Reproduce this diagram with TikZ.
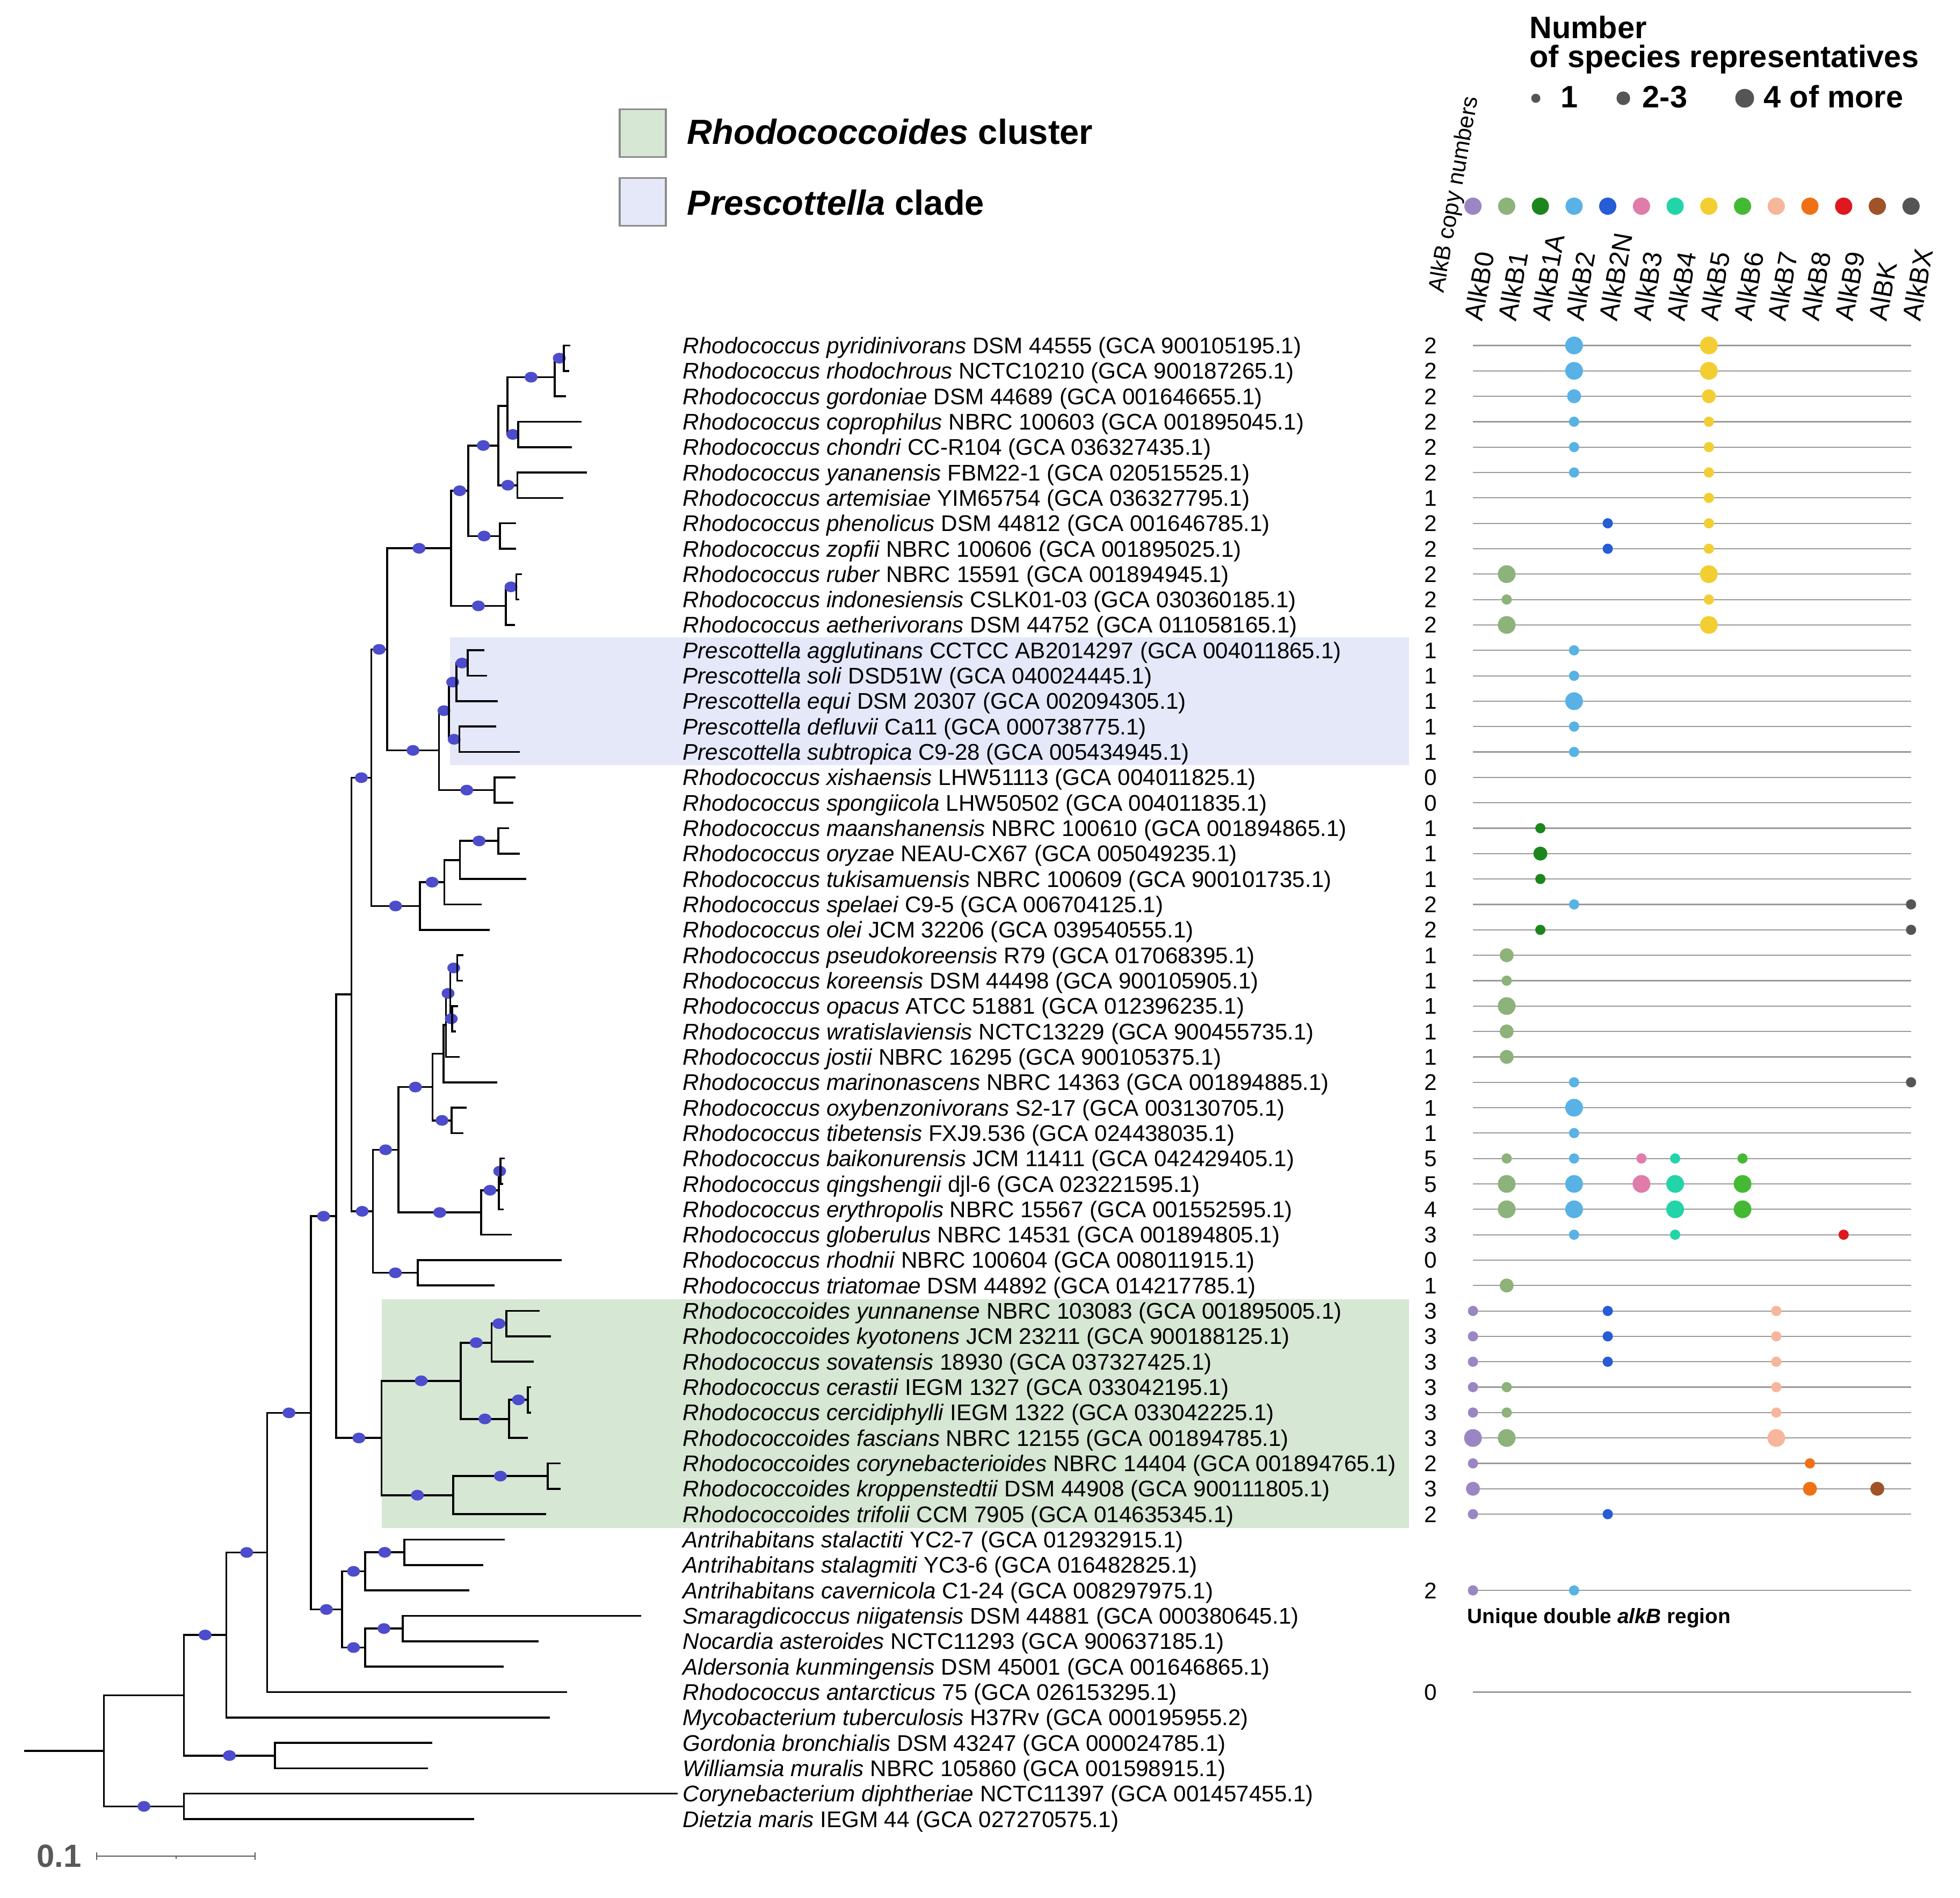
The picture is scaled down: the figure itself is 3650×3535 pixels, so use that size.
\documentclass[tikz,border=0pt]{standalone}
\usepackage{fontspec}
\setmainfont{Liberation Sans}
\usetikzlibrary{positioning, shapes.geometric}

\definecolor{bootblue}{RGB}{76,76,204}
\definecolor{rhodo}{RGB}{214,231,212}
\definecolor{presc}{RGB}{229,232,248}
\definecolor{cB0}{RGB}{155,134,196}
\definecolor{cB1}{RGB}{141,178,122}
\definecolor{cB1A}{RGB}{28,134,28}
\definecolor{cB2}{RGB}{88,178,230}
\definecolor{cB2N}{RGB}{38,92,214}
\definecolor{cB3}{RGB}{224,124,170}
\definecolor{cB4}{RGB}{34,212,168}
\definecolor{cB5}{RGB}{242,206,50}
\definecolor{cB6}{RGB}{68,186,52}
\definecolor{cB7}{RGB}{246,182,156}
\definecolor{cB8}{RGB}{240,112,22}
\definecolor{cB9}{RGB}{222,24,30}
\definecolor{cBK}{RGB}{160,82,40}
\definecolor{cBX}{RGB}{85,85,85}

\begin{document}
\begin{tikzpicture} [x = 0.01cm, y = -0.01cm,
    branch/.style = {line width = 0.36mm},
    boot/.style = {ellipse, fill = bootblue, inner sep = 0pt, minimum width = 2.4mm, minimum height = 2mm},
    taxon/.style = {anchor = base west, inner sep = 0pt, yshift = -1.5mm, font = \fontsize{12}{14}\selectfont},
    copyno/.style = {anchor = base, inner sep = 0pt, yshift = -1.5mm, font = \fontsize{12}{14}\selectfont},
    rowline/.style = {line width = 0.22mm, draw = black!40},
    dotone/.style = {radius = 0.95mm},
    dotfew/.style = {radius = 1.3mm},
    dotmany/.style = {radius = 1.65mm},
    alkhead/.style = {anchor = west, rotate = 80, inner sep = 0pt, font = \fontsize{14}{16}\selectfont},
    legbox/.style = {draw = black!45, line width = 0.35mm, minimum width = 0.86cm, minimum height = 0.89cm, inner sep = 0pt},
    legtext/.style = {anchor = base west, inner sep = 0pt, font = \bfseries\fontsize{18.5}{20}\selectfont},
    legbig/.style = {anchor = base west, inner sep = 0pt, font = \bfseries\fontsize{16.4}{18}\selectfont}]

\useasboundingbox (0,0) rectangle (3650,3535);

% highlighted groups
\fill [presc] (838,1187) rectangle (2624,1425);
\fill [rhodo] (711,2420) rectangle (2624,2846);

% legend, groups
\node (boxR) [legbox, fill = rhodo] at (1197,248) {};
\node (legR) [legtext] at (1279,268) {\textit{Rhodococcoides} cluster};
\node (boxP) [legbox, fill = presc] at (1197,376) {};
\node (legP) [legtext] at (1279,400) {\textit{Prescottella} clade};

% legend, dot sizes
\node (legN1) [legbig] at (2848,71) {Number};
\node (legN2) [legbig] at (2848,125) {of species representatives};
\fill [cBX] (2860,183) circle [radius = 0.85mm];
\node (leg1) [legbig] at (2906,200) {1};
\fill [cBX] (3023,183) circle [radius = 1.27mm];
\node (leg2) [legbig] at (3058,200) {2-3};
\fill [cBX] (3249,183) circle [radius = 1.75mm];
\node (leg3) [legbig] at (3284,200) {4 of more};

% columns
\coordinate (xB0) at (2743.0,597);
\coordinate (xB1) at (2805.8,597);
\coordinate (xB1A) at (2868.5,597);
\coordinate (xB2) at (2931.3,597);
\coordinate (xB2N) at (2994.0,597);
\coordinate (xB3) at (3056.8,597);
\coordinate (xB4) at (3119.5,597);
\coordinate (xB5) at (3182.3,597);
\coordinate (xB6) at (3245.0,597);
\coordinate (xB7) at (3307.8,597);
\coordinate (xB8) at (3370.5,597);
\coordinate (xB9) at (3433.3,597);
\coordinate (xBK) at (3496.0,597);
\coordinate (xBX) at (3558.8,597);
\coordinate (hdot) at (0,384);

\node (cnhead) [anchor = west, rotate = 80, inner sep = 0pt, font = \fontsize{12.2}{14}\selectfont] at (2677,545) {AlkB copy numbers};

\node (hB0) [alkhead] at (xB0) {AlkB0};
\node (hB1) [alkhead] at (xB1) {AlkB1};
\node (hB1A) [alkhead] at (xB1A) {AlkB1A};
\node (hB2) [alkhead] at (xB2) {AlkB2};
\node (hB2N) [alkhead] at (xB2N) {AlkB2N};
\node (hB3) [alkhead] at (xB3) {AlkB3};
\node (hB4) [alkhead] at (xB4) {AlkB4};
\node (hB5) [alkhead] at (xB5) {AlkB5};
\node (hB6) [alkhead] at (xB6) {AlkB6};
\node (hB7) [alkhead] at (xB7) {AlkB7};
\node (hB8) [alkhead] at (xB8) {AlkB8};
\node (hB9) [alkhead] at (xB9) {AlkB9};
\node (hBK) [alkhead] at (xBK) {AlBK};
\node (hBX) [alkhead] at (xBX) {AlkBX};

\fill [cB0] (xB0 |- hdot) circle [radius = 1.6mm];
\fill [cB1] (xB1 |- hdot) circle [radius = 1.6mm];
\fill [cB1A] (xB1A |- hdot) circle [radius = 1.6mm];
\fill [cB2] (xB2 |- hdot) circle [radius = 1.6mm];
\fill [cB2N] (xB2N |- hdot) circle [radius = 1.6mm];
\fill [cB3] (xB3 |- hdot) circle [radius = 1.6mm];
\fill [cB4] (xB4 |- hdot) circle [radius = 1.6mm];
\fill [cB5] (xB5 |- hdot) circle [radius = 1.6mm];
\fill [cB6] (xB6 |- hdot) circle [radius = 1.6mm];
\fill [cB7] (xB7 |- hdot) circle [radius = 1.6mm];
\fill [cB8] (xB8 |- hdot) circle [radius = 1.6mm];
\fill [cB9] (xB9 |- hdot) circle [radius = 1.6mm];
\fill [cBK] (xBK |- hdot) circle [radius = 1.6mm];
\fill [cBX] (xBX |- hdot) circle [radius = 1.6mm];

% leaves
\coordinate (l1) at (1062,643.4);
\coordinate (l2) at (1060,690.7);
\coordinate (l3) at (1054,738.0);
\coordinate (l4) at (1083,785.4);
\coordinate (l5) at (1065,832.7);
\coordinate (l6) at (1093,880.0);
\coordinate (l7) at (1049,927.3);
\coordinate (l8) at (960.6,974.6);
\coordinate (l9) at (960.6,1022.0);
\coordinate (l10) at (972,1069.3);
\coordinate (l11) at (966.5,1116.6);
\coordinate (l12) at (959,1163.9);
\coordinate (l13) at (901.7,1211.2);
\coordinate (l14) at (906.7,1258.6);
\coordinate (l15) at (926.5,1305.9);
\coordinate (l16) at (924.4,1353.2);
\coordinate (l17) at (967.8,1400.5);
\coordinate (l18) at (960,1447.8);
\coordinate (l19) at (956.4,1495.2);
\coordinate (l20) at (948,1542.5);
\coordinate (l21) at (968,1589.8);
\coordinate (l22) at (980,1637.1);
\coordinate (l23) at (897.4,1684.4);
\coordinate (l24) at (911.6,1731.8);
\coordinate (l25) at (863.4,1779.1);
\coordinate (l26) at (862,1826.4);
\coordinate (l27) at (852.6,1873.7);
\coordinate (l28) at (848.8,1921.0);
\coordinate (l29) at (856,1968.4);
\coordinate (l30) at (925.7,2015.7);
\coordinate (l31) at (869,2063.0);
\coordinate (l32) at (863,2110.3);
\coordinate (l33) at (940,2157.6);
\coordinate (l34) at (937,2205.0);
\coordinate (l35) at (937.5,2252.3);
\coordinate (l36) at (952.6,2299.6);
\coordinate (l37) at (1046,2346.9);
\coordinate (l38) at (921,2394.2);
\coordinate (l39) at (1004.5,2441.6);
\coordinate (l40) at (1025.8,2488.9);
\coordinate (l41) at (993.6,2536.2);
\coordinate (l42) at (989,2583.5);
\coordinate (l43) at (989,2630.8);
\coordinate (l44) at (983.3,2678.2);
\coordinate (l45) at (1044,2725.5);
\coordinate (l46) at (1044,2772.8);
\coordinate (l47) at (1016.7,2820.1);
\coordinate (l48) at (939.7,2867.4);
\coordinate (l49) at (899.7,2914.8);
\coordinate (l50) at (874,2962.1);
\coordinate (l51) at (1193.6,3009.4);
\coordinate (l52) at (1002.7,3056.7);
\coordinate (l53) at (938,3104.0);
\coordinate (l54) at (1056,3151.4);
\coordinate (l55) at (1024,3198.7);
\coordinate (l56) at (804.5,3246.0);
\coordinate (l57) at (796.7,3293.3);
\coordinate (l58) at (1262,3340.6);
\coordinate (l59) at (883,3388.0);

% internal nodes
\coordinate (a12) at (1050,667.1);
\coordinate (a123) at (1033,702.5);
\coordinate (a45) at (965,809.1);
\coordinate (a15) at (945,755.8);
\coordinate (a67) at (963.5,903.7);
\coordinate (a17) at (928,829.7);
\coordinate (a89) at (931,998.3);
\coordinate (a19) at (872,914.0);
\coordinate (a1011) at (961.5,1093.0);
\coordinate (a1012) at (941.7,1128.4);
\coordinate (a112) at (840,1021.2);
\coordinate (b1314) at (871,1234.9);
\coordinate (b1315) at (850,1270.4);
\coordinate (b1617) at (855.4,1376.9);
\coordinate (b1317) at (836,1323.6);
\coordinate (b1819) at (921,1471.5);
\coordinate (b1319) at (817.5,1397.6);
\coordinate (p1) at (720.7,1209.4);
\coordinate (c2021) at (928,1566.2);
\coordinate (c2022) at (856.4,1601.7);
\coordinate (c2023) at (827.6,1643.0);
\coordinate (c2024) at (781.8,1687.4);
\coordinate (p2) at (691.4,1448.4);
\coordinate (d2526) at (851.6,1802.8);
\coordinate (d2728) at (842.2,1897.4);
\coordinate (d2528) at (838.4,1850.1);
\coordinate (d2529) at (830.4,1909.2);
\coordinate (d2530) at (825.7,1962.5);
\coordinate (d3132) at (840.8,2086.7);
\coordinate (d2532) at (805.4,2024.6);
\coordinate (d3334) at (932,2181.3);
\coordinate (d3335) at (929,2216.8);
\coordinate (d3336) at (896,2258.2);
\coordinate (d2536) at (741.7,2141.4);
\coordinate (d3738) at (778,2370.6);
\coordinate (d2538) at (694.5,2256.0);
\coordinate (p3) at (654.4,1852.2);
\coordinate (e3940) at (942.7,2465.2);
\coordinate (e3941) at (915.5,2500.7);
\coordinate (e4243) at (983,2607.2);
\coordinate (e4244) at (948,2642.7);
\coordinate (e3944) at (858,2571.7);
\coordinate (e4546) at (1019.7,2749.2);
\coordinate (e4547) at (844,2784.7);
\coordinate (e3947) at (710.6,2678.2);
\coordinate (p4) at (626,2265.2);
\coordinate (f4849) at (753,2891.1);
\coordinate (f4850) at (680,2926.6);
\coordinate (f5152) at (750,3033.1);
\coordinate (f5153) at (680,3068.5);
\coordinate (f4853) at (636.7,2997.6);
\coordinate (p5) at (579,2631.4);
\coordinate (p6) at (497.3,2891.4);
\coordinate (p7) at (421.5,3045.1);
\coordinate (g5657) at (511.8,3269.7);
\coordinate (p8) at (342.6,3157.4);
\coordinate (h5859) at (342.6,3364.3);
\coordinate (root) at (193.5,3260.9);
\coordinate (rootstem) at (44.5,3260.9);

% tree
\draw [branch] (rootstem) -- (root);
\draw [branch] (root) |- (p8);
\draw [branch] (root) |- node [boot, pos = .75] (s-h5859) {} (h5859);
\draw [branch] (h5859) |- (l58);
\draw [branch] (h5859) |- (l59);
\draw [branch] (p8) |- node [boot, pos = .75] (s-p7) {} (p7);
\draw [branch] (p8) |- node [boot, pos = .75] (s-g5657) {} (g5657);
\draw [branch] (g5657) |- (l56);
\draw [branch] (g5657) |- (l57);
\draw [branch] (p7) |- node [boot, pos = .75] (s-p6) {} (p6);
\draw [branch] (p7) |- (l55);
\draw [branch] (p6) |- node [boot, pos = .75] (s-p5) {} (p5);
\draw [branch] (p6) |- (l54);

% Antrihabitans and relatives
\draw [branch] (p5) |- node [boot, pos = .75] (s-f4853) {} (f4853);
\draw [branch] (f4853) |- node [boot, pos = .75] (s-f4850) {} (f4850);
\draw [branch] (f4853) |- node [boot, pos = .75] (s-f5153) {} (f5153);
\draw [branch] (f4850) |- node [boot, pos = .75] (s-f4849) {} (f4849);
\draw [branch] (f4850) |- (l50);
\draw [branch] (f4849) |- (l48);
\draw [branch] (f4849) |- (l49);
\draw [branch] (f5153) |- node [boot, pos = .75] (s-f5152) {} (f5152);
\draw [branch] (f5153) |- (l53);
\draw [branch] (f5152) |- (l51);
\draw [branch] (f5152) |- (l52);

% Rhodococcoides cluster
\draw [branch] (p5) |- node [boot, pos = .75] (s-p4) {} (p4);
\draw [branch] (p4) |- node [boot, pos = .75] (s-e3947) {} (e3947);
\draw [branch] (e3947) |- node [boot, pos = .75] (s-e3944) {} (e3944);
\draw [branch] (e3947) |- node [boot, pos = .75] (s-e4547) {} (e4547);
\draw [branch] (e3944) |- node [boot, pos = .75] (s-e3941) {} (e3941);
\draw [branch] (e3944) |- node [boot, pos = .75] (s-e4244) {} (e4244);
\draw [branch] (e3941) |- node [boot, pos = .75] (s-e3940) {} (e3940);
\draw [branch] (e3941) |- (l41);
\draw [branch] (e3940) |- (l39);
\draw [branch] (e3940) |- (l40);
\draw [branch] (e4244) |- node [boot, pos = .75] (s-e4243) {} (e4243);
\draw [branch] (e4244) |- (l44);
\draw [branch] (e4243) |- (l42);
\draw [branch] (e4243) |- (l43);
\draw [branch] (e4547) |- node [boot, pos = .75] (s-e4546) {} (e4546);
\draw [branch] (e4547) |- (l47);
\draw [branch] (e4546) |- (l45);
\draw [branch] (e4546) |- (l46);

% opacus / erythropolis groups
\draw [branch] (p4) |- (p3);
\draw [branch] (p3) |- node [boot, pos = .75] (s-d2538) {} (d2538);
\draw [branch] (d2538) |- node [boot, pos = .75] (s-d3738) {} (d3738);
\draw [branch] (d3738) |- (l37);
\draw [branch] (d3738) |- (l38);
\draw [branch] (d2538) |- node [boot, pos = .75] (s-d2536) {} (d2536);
\draw [branch] (d2536) |- node [boot, pos = .75] (s-d3336) {} (d3336);
\draw [branch] (d3336) |- node [boot, pos = .75] (s-d3335) {} (d3335);
\draw [branch] (d3336) |- (l36);
\draw [branch] (d3335) |- node [boot, pos = .75] (s-d3334) {} (d3334);
\draw [branch] (d3335) |- (l35);
\draw [branch] (d3334) |- (l33);
\draw [branch] (d3334) |- (l34);
\draw [branch] (d2536) |- node [boot, pos = .75] (s-d2532) {} (d2532);
\draw [branch] (d2532) |- node [boot, pos = .75] (s-d3132) {} (d3132);
\draw [branch] (d3132) |- (l31);
\draw [branch] (d3132) |- (l32);
\draw [branch] (d2532) |- (d2530);
\draw [branch] (d2530) |- (l30);
\draw [branch] (d2530) |- (d2529);
\draw [branch] (d2529) |- (l29);
\draw [branch] (d2529) |- node [boot, pos = .75] (s-d2528) {} (d2528);
\draw [branch] (d2528) |- node [boot, pos = .75] (s-d2526) {} (d2526);
\draw [branch] (d2528) |- node [boot, pos = .75] (s-d2728) {} (d2728);
\draw [branch] (d2526) |- (l25);
\draw [branch] (d2526) |- (l26);
\draw [branch] (d2728) |- (l27);
\draw [branch] (d2728) |- (l28);

% maanshanensis group
\draw [branch] (p3) |- node [boot, pos = .75] (s-p2) {} (p2);
\draw [branch] (p2) |- node [boot, pos = .75] (s-c2024) {} (c2024);
\draw [branch] (c2024) |- (l24);
\draw [branch] (c2024) |- node [boot, pos = .75] (s-c2023) {} (c2023);
\draw [branch] (c2023) |- (l23);
\draw [branch] (c2023) |- (c2022);
\draw [branch] (c2022) |- (l22);
\draw [branch] (c2022) |- node [boot, pos = .75] (s-c2021) {} (c2021);
\draw [branch] (c2021) |- (l20);
\draw [branch] (c2021) |- (l21);

% Prescottella clade
\draw [branch] (p2) |- node [boot, pos = .75] (s-p1) {} (p1);
\draw [branch] (p1) |- node [boot, pos = .75] (s-b1319) {} (b1319);
\draw [branch] (b1319) |- node [boot, pos = .75] (s-b1819) {} (b1819);
\draw [branch] (b1819) |- (l18);
\draw [branch] (b1819) |- (l19);
\draw [branch] (b1319) |- node [boot, pos = .75] (s-b1317) {} (b1317);
\draw [branch] (b1317) |- node [boot, pos = .75] (s-b1617) {} (b1617);
\draw [branch] (b1617) |- (l16);
\draw [branch] (b1617) |- (l17);
\draw [branch] (b1317) |- node [boot, pos = .75] (s-b1315) {} (b1315);
\draw [branch] (b1315) |- (l15);
\draw [branch] (b1315) |- node [boot, pos = .75] (s-b1314) {} (b1314);
\draw [branch] (b1314) |- (l13);
\draw [branch] (b1314) |- (l14);

% ruber / rhodochrous group
\draw [branch] (p1) |- node [boot, pos = .75] (s-a112) {} (a112);
\draw [branch] (a112) |- node [boot, pos = .75] (s-a1012) {} (a1012);
\draw [branch] (a1012) |- (l12);
\draw [branch] (a1012) |- node [boot, pos = .75] (s-a1011) {} (a1011);
\draw [branch] (a1011) |- (l10);
\draw [branch] (a1011) |- (l11);
\draw [branch] (a112) |- node [boot, pos = .75] (s-a19) {} (a19);
\draw [branch] (a19) |- node [boot, pos = .75] (s-a89) {} (a89);
\draw [branch] (a89) |- (l8);
\draw [branch] (a89) |- (l9);
\draw [branch] (a19) |- node [boot, pos = .75] (s-a17) {} (a17);
\draw [branch] (a17) |- node [boot, pos = .75] (s-a67) {} (a67);
\draw [branch] (a67) |- (l6);
\draw [branch] (a67) |- (l7);
\draw [branch] (a17) |- (a15);
\draw [branch] (a15) |- node [boot, pos = .75] (s-a45) {} (a45);
\draw [branch] (a45) |- (l4);
\draw [branch] (a45) |- (l5);
\draw [branch] (a15) |- node [boot, pos = .75] (s-a123) {} (a123);
\draw [branch] (a123) |- (l3);
\draw [branch] (a123) |- node [boot, pos = .75] (s-a12) {} (a12);
\draw [branch] (a12) |- (l1);
\draw [branch] (a12) |- (l2);

% scale bar
\coordinate (sbL) at (180,3457);
\coordinate (sbR) at (475,3457);
\node (sbtext) [anchor = west, inner sep = 0pt, text = black!65, font = \bfseries\fontsize{17}{18}\selectfont] at (68,3457) {0.1};
\draw [line width = 0.25mm, black!65] (sbL) -- (sbR);
\draw [line width = 0.25mm, black!65] ([yshift = 0.7mm] sbL) -- ([yshift = -0.7mm] sbL);
\draw [line width = 0.25mm, black!65] ([yshift = 0.7mm] sbR) -- ([yshift = -0.7mm] sbR);
\draw [line width = 0.2mm, black!65] (328,3457) -- (328,3462);

% taxa
\coordinate (lab) at (1271,0);
\node (t1) [taxon] at (lab |- l1) {\textit{Rhodococcus pyridinivorans} DSM 44555 (GCA 900105195.1)};
\node (t2) [taxon] at (lab |- l2) {\textit{Rhodococcus rhodochrous} NCTC10210 (GCA 900187265.1)};
\node (t3) [taxon] at (lab |- l3) {\textit{Rhodococcus gordoniae} DSM 44689 (GCA 001646655.1)};
\node (t4) [taxon] at (lab |- l4) {\textit{Rhodococcus coprophilus} NBRC 100603 (GCA 001895045.1)};
\node (t5) [taxon] at (lab |- l5) {\textit{Rhodococcus chondri} CC-R104 (GCA 036327435.1)};
\node (t6) [taxon] at (lab |- l6) {\textit{Rhodococcus yananensis} FBM22-1 (GCA 020515525.1)};
\node (t7) [taxon] at (lab |- l7) {\textit{Rhodococcus artemisiae} YIM65754 (GCA 036327795.1)};
\node (t8) [taxon] at (lab |- l8) {\textit{Rhodococcus phenolicus} DSM 44812 (GCA 001646785.1)};
\node (t9) [taxon] at (lab |- l9) {\textit{Rhodococcus zopfii} NBRC 100606 (GCA 001895025.1)};
\node (t10) [taxon] at (lab |- l10) {\textit{Rhodococcus ruber} NBRC 15591 (GCA 001894945.1)};
\node (t11) [taxon] at (lab |- l11) {\textit{Rhodococcus indonesiensis} CSLK01-03 (GCA 030360185.1)};
\node (t12) [taxon] at (lab |- l12) {\textit{Rhodococcus aetherivorans} DSM 44752 (GCA 011058165.1)};
\node (t13) [taxon] at (lab |- l13) {\textit{Prescottella agglutinans} CCTCC AB2014297 (GCA 004011865.1)};
\node (t14) [taxon] at (lab |- l14) {\textit{Prescottella soli} DSD51W (GCA 040024445.1)};
\node (t15) [taxon] at (lab |- l15) {\textit{Prescottella equi} DSM 20307 (GCA 002094305.1)};
\node (t16) [taxon] at (lab |- l16) {\textit{Prescottella defluvii} Ca11 (GCA 000738775.1)};
\node (t17) [taxon] at (lab |- l17) {\textit{Prescottella subtropica} C9-28 (GCA 005434945.1)};
\node (t18) [taxon] at (lab |- l18) {\textit{Rhodococcus xishaensis} LHW51113 (GCA 004011825.1)};
\node (t19) [taxon] at (lab |- l19) {\textit{Rhodococcus spongiicola} LHW50502 (GCA 004011835.1)};
\node (t20) [taxon] at (lab |- l20) {\textit{Rhodococcus maanshanensis} NBRC 100610 (GCA 001894865.1)};
\node (t21) [taxon] at (lab |- l21) {\textit{Rhodococcus oryzae} NEAU-CX67 (GCA 005049235.1)};
\node (t22) [taxon] at (lab |- l22) {\textit{Rhodococcus tukisamuensis} NBRC 100609 (GCA 900101735.1)};
\node (t23) [taxon] at (lab |- l23) {\textit{Rhodococcus spelaei} C9-5 (GCA 006704125.1)};
\node (t24) [taxon] at (lab |- l24) {\textit{Rhodococcus olei} JCM 32206 (GCA 039540555.1)};
\node (t25) [taxon] at (lab |- l25) {\textit{Rhodococcus pseudokoreensis} R79 (GCA 017068395.1)};
\node (t26) [taxon] at (lab |- l26) {\textit{Rhodococcus koreensis} DSM 44498 (GCA 900105905.1)};
\node (t27) [taxon] at (lab |- l27) {\textit{Rhodococcus opacus} ATCC 51881 (GCA 012396235.1)};
\node (t28) [taxon] at (lab |- l28) {\textit{Rhodococcus wratislaviensis} NCTC13229 (GCA 900455735.1)};
\node (t29) [taxon] at (lab |- l29) {\textit{Rhodococcus jostii} NBRC 16295 (GCA 900105375.1)};
\node (t30) [taxon] at (lab |- l30) {\textit{Rhodococcus marinonascens} NBRC 14363 (GCA 001894885.1)};
\node (t31) [taxon] at (lab |- l31) {\textit{Rhodococcus oxybenzonivorans} S2-17 (GCA 003130705.1)};
\node (t32) [taxon] at (lab |- l32) {\textit{Rhodococcus tibetensis} FXJ9.536 (GCA 024438035.1)};
\node (t33) [taxon] at (lab |- l33) {\textit{Rhodococcus baikonurensis} JCM 11411 (GCA 042429405.1)};
\node (t34) [taxon] at (lab |- l34) {\textit{Rhodococcus qingshengii} djl-6 (GCA 023221595.1)};
\node (t35) [taxon] at (lab |- l35) {\textit{Rhodococcus erythropolis} NBRC 15567 (GCA 001552595.1)};
\node (t36) [taxon] at (lab |- l36) {\textit{Rhodococcus globerulus} NBRC 14531 (GCA 001894805.1)};
\node (t37) [taxon] at (lab |- l37) {\textit{Rhodococcus rhodnii} NBRC 100604 (GCA 008011915.1)};
\node (t38) [taxon] at (lab |- l38) {\textit{Rhodococcus triatomae} DSM 44892 (GCA 014217785.1)};
\node (t39) [taxon] at (lab |- l39) {\textit{Rhodococcoides yunnanense} NBRC 103083 (GCA 001895005.1)};
\node (t40) [taxon] at (lab |- l40) {\textit{Rhodococcoides kyotonens} JCM 23211 (GCA 900188125.1)};
\node (t41) [taxon] at (lab |- l41) {\textit{Rhodococcus sovatensis} 18930 (GCA 037327425.1)};
\node (t42) [taxon] at (lab |- l42) {\textit{Rhodococcus cerastii} IEGM 1327 (GCA 033042195.1)};
\node (t43) [taxon] at (lab |- l43) {\textit{Rhodococcus cercidiphylli} IEGM 1322 (GCA 033042225.1)};
\node (t44) [taxon] at (lab |- l44) {\textit{Rhodococcoides fascians} NBRC 12155 (GCA 001894785.1)};
\node (t45) [taxon] at (lab |- l45) {\textit{Rhodococcoides corynebacterioides} NBRC 14404 (GCA 001894765.1)};
\node (t46) [taxon] at (lab |- l46) {\textit{Rhodococcoides kroppenstedtii} DSM 44908 (GCA 900111805.1)};
\node (t47) [taxon] at (lab |- l47) {\textit{Rhodococcoides trifolii} CCM 7905 (GCA 014635345.1)};
\node (t48) [taxon] at (lab |- l48) {\textit{Antrihabitans stalactiti} YC2-7 (GCA 012932915.1)};
\node (t49) [taxon] at (lab |- l49) {\textit{Antrihabitans stalagmiti} YC3-6 (GCA 016482825.1)};
\node (t50) [taxon] at (lab |- l50) {\textit{Antrihabitans cavernicola} C1-24 (GCA 008297975.1)};
\node (t51) [taxon] at (lab |- l51) {\textit{Smaragdicoccus niigatensis} DSM 44881 (GCA 000380645.1)};
\node (t52) [taxon] at (lab |- l52) {\textit{Nocardia asteroides} NCTC11293 (GCA 900637185.1)};
\node (t53) [taxon] at (lab |- l53) {\textit{Aldersonia kunmingensis} DSM 45001 (GCA 001646865.1)};
\node (t54) [taxon] at (lab |- l54) {\textit{Rhodococcus antarcticus} 75 (GCA 026153295.1)};
\node (t55) [taxon] at (lab |- l55) {\textit{Mycobacterium tuberculosis} H37Rv (GCA 000195955.2)};
\node (t56) [taxon] at (lab |- l56) {\textit{Gordonia bronchialis} DSM 43247 (GCA 000024785.1)};
\node (t57) [taxon] at (lab |- l57) {\textit{Williamsia muralis} NBRC 105860 (GCA 001598915.1)};
\node (t58) [taxon] at (lab |- l58) {\textit{Corynebacterium diphtheriae} NCTC11397 (GCA 001457455.1)};
\node (t59) [taxon] at (lab |- l59) {\textit{Dietzia maris} IEGM 44 (GCA 027270575.1)};

% copy numbers
\coordinate (cn) at (2664,0);
\node (n1) [copyno] at (cn |- l1) {2};
\node (n2) [copyno] at (cn |- l2) {2};
\node (n3) [copyno] at (cn |- l3) {2};
\node (n4) [copyno] at (cn |- l4) {2};
\node (n5) [copyno] at (cn |- l5) {2};
\node (n6) [copyno] at (cn |- l6) {2};
\node (n7) [copyno] at (cn |- l7) {1};
\node (n8) [copyno] at (cn |- l8) {2};
\node (n9) [copyno] at (cn |- l9) {2};
\node (n10) [copyno] at (cn |- l10) {2};
\node (n11) [copyno] at (cn |- l11) {2};
\node (n12) [copyno] at (cn |- l12) {2};
\node (n13) [copyno] at (cn |- l13) {1};
\node (n14) [copyno] at (cn |- l14) {1};
\node (n15) [copyno] at (cn |- l15) {1};
\node (n16) [copyno] at (cn |- l16) {1};
\node (n17) [copyno] at (cn |- l17) {1};
\node (n18) [copyno] at (cn |- l18) {0};
\node (n19) [copyno] at (cn |- l19) {0};
\node (n20) [copyno] at (cn |- l20) {1};
\node (n21) [copyno] at (cn |- l21) {1};
\node (n22) [copyno] at (cn |- l22) {1};
\node (n23) [copyno] at (cn |- l23) {2};
\node (n24) [copyno] at (cn |- l24) {2};
\node (n25) [copyno] at (cn |- l25) {1};
\node (n26) [copyno] at (cn |- l26) {1};
\node (n27) [copyno] at (cn |- l27) {1};
\node (n28) [copyno] at (cn |- l28) {1};
\node (n29) [copyno] at (cn |- l29) {1};
\node (n30) [copyno] at (cn |- l30) {2};
\node (n31) [copyno] at (cn |- l31) {1};
\node (n32) [copyno] at (cn |- l32) {1};
\node (n33) [copyno] at (cn |- l33) {5};
\node (n34) [copyno] at (cn |- l34) {5};
\node (n35) [copyno] at (cn |- l35) {4};
\node (n36) [copyno] at (cn |- l36) {3};
\node (n37) [copyno] at (cn |- l37) {0};
\node (n38) [copyno] at (cn |- l38) {1};
\node (n39) [copyno] at (cn |- l39) {3};
\node (n40) [copyno] at (cn |- l40) {3};
\node (n41) [copyno] at (cn |- l41) {3};
\node (n42) [copyno] at (cn |- l42) {3};
\node (n43) [copyno] at (cn |- l43) {3};
\node (n44) [copyno] at (cn |- l44) {3};
\node (n45) [copyno] at (cn |- l45) {2};
\node (n46) [copyno] at (cn |- l46) {3};
\node (n47) [copyno] at (cn |- l47) {2};
\node (n50) [copyno] at (cn |- l50) {2};
\node (n54) [copyno] at (cn |- l54) {0};

% row lines
\foreach \r in {1,...,47,50,54}
  \draw [rowline] (xB0 |- l\r) -- (xBX |- l\r);

\node (uniq) [anchor = base west, inner sep = 0pt, font = \bfseries\fontsize{11}{13}\selectfont] at (2732,3023) {Unique double \textit{alkB} region};

% alkB copies
\fill [cB2] (xB2 |- l1) circle [dotmany];  \fill [cB5] (xB5 |- l1) circle [dotmany];
\fill [cB2] (xB2 |- l2) circle [dotmany];  \fill [cB5] (xB5 |- l2) circle [dotmany];
\fill [cB2] (xB2 |- l3) circle [dotfew];   \fill [cB5] (xB5 |- l3) circle [dotfew];
\fill [cB2] (xB2 |- l4) circle [dotone];   \fill [cB5] (xB5 |- l4) circle [dotone];
\fill [cB2] (xB2 |- l5) circle [dotone];   \fill [cB5] (xB5 |- l5) circle [dotone];
\fill [cB2] (xB2 |- l6) circle [dotone];   \fill [cB5] (xB5 |- l6) circle [dotone];
\fill [cB5] (xB5 |- l7) circle [dotone];
\fill [cB2N] (xB2N |- l8) circle [dotone]; \fill [cB5] (xB5 |- l8) circle [dotone];
\fill [cB2N] (xB2N |- l9) circle [dotone]; \fill [cB5] (xB5 |- l9) circle [dotone];
\fill [cB1] (xB1 |- l10) circle [dotmany]; \fill [cB5] (xB5 |- l10) circle [dotmany];
\fill [cB1] (xB1 |- l11) circle [dotone];  \fill [cB5] (xB5 |- l11) circle [dotone];
\fill [cB1] (xB1 |- l12) circle [dotmany]; \fill [cB5] (xB5 |- l12) circle [dotmany];
\fill [cB2] (xB2 |- l13) circle [dotone];
\fill [cB2] (xB2 |- l14) circle [dotone];
\fill [cB2] (xB2 |- l15) circle [dotmany];
\fill [cB2] (xB2 |- l16) circle [dotone];
\fill [cB2] (xB2 |- l17) circle [dotone];
\fill [cB1A] (xB1A |- l20) circle [dotone];
\fill [cB1A] (xB1A |- l21) circle [dotfew];
\fill [cB1A] (xB1A |- l22) circle [dotone];
\fill [cB2] (xB2 |- l23) circle [dotone];  \fill [cBX] (xBX |- l23) circle [dotone];
\fill [cB1A] (xB1A |- l24) circle [dotone]; \fill [cBX] (xBX |- l24) circle [dotone];
\fill [cB1] (xB1 |- l25) circle [dotfew];
\fill [cB1] (xB1 |- l26) circle [dotone];
\fill [cB1] (xB1 |- l27) circle [dotmany];
\fill [cB1] (xB1 |- l28) circle [dotfew];
\fill [cB1] (xB1 |- l29) circle [dotfew];
\fill [cB2] (xB2 |- l30) circle [dotone];  \fill [cBX] (xBX |- l30) circle [dotone];
\fill [cB2] (xB2 |- l31) circle [dotmany];
\fill [cB2] (xB2 |- l32) circle [dotone];
\fill [cB1] (xB1 |- l33) circle [dotone];  \fill [cB2] (xB2 |- l33) circle [dotone];
\fill [cB3] (xB3 |- l33) circle [dotone];  \fill [cB4] (xB4 |- l33) circle [dotone];
\fill [cB6] (xB6 |- l33) circle [dotone];
\fill [cB1] (xB1 |- l34) circle [dotmany]; \fill [cB2] (xB2 |- l34) circle [dotmany];
\fill [cB3] (xB3 |- l34) circle [dotmany]; \fill [cB4] (xB4 |- l34) circle [dotmany];
\fill [cB6] (xB6 |- l34) circle [dotmany];
\fill [cB1] (xB1 |- l35) circle [dotmany]; \fill [cB2] (xB2 |- l35) circle [dotmany];
\fill [cB4] (xB4 |- l35) circle [dotmany]; \fill [cB6] (xB6 |- l35) circle [dotmany];
\fill [cB2] (xB2 |- l36) circle [dotone];  \fill [cB4] (xB4 |- l36) circle [dotone];
\fill [cB9] (xB9 |- l36) circle [dotone];
\fill [cB1] (xB1 |- l38) circle [dotfew];
\fill [cB0] (xB0 |- l39) circle [dotone];  \fill [cB2N] (xB2N |- l39) circle [dotone]; \fill [cB7] (xB7 |- l39) circle [dotone];
\fill [cB0] (xB0 |- l40) circle [dotone];  \fill [cB2N] (xB2N |- l40) circle [dotone]; \fill [cB7] (xB7 |- l40) circle [dotone];
\fill [cB0] (xB0 |- l41) circle [dotone];  \fill [cB2N] (xB2N |- l41) circle [dotone]; \fill [cB7] (xB7 |- l41) circle [dotone];
\fill [cB0] (xB0 |- l42) circle [dotone];  \fill [cB1] (xB1 |- l42) circle [dotone];   \fill [cB7] (xB7 |- l42) circle [dotone];
\fill [cB0] (xB0 |- l43) circle [dotone];  \fill [cB1] (xB1 |- l43) circle [dotone];   \fill [cB7] (xB7 |- l43) circle [dotone];
\fill [cB0] (xB0 |- l44) circle [dotmany]; \fill [cB1] (xB1 |- l44) circle [dotmany];  \fill [cB7] (xB7 |- l44) circle [dotmany];
\fill [cB0] (xB0 |- l45) circle [dotone];  \fill [cB8] (xB8 |- l45) circle [dotone];
\fill [cB0] (xB0 |- l46) circle [dotfew];  \fill [cB8] (xB8 |- l46) circle [dotfew];   \fill [cBK] (xBK |- l46) circle [dotfew];
\fill [cB0] (xB0 |- l47) circle [dotone];  \fill [cB2N] (xB2N |- l47) circle [dotone];
\fill [cB0] (xB0 |- l50) circle [dotone];  \fill [cB2] (xB2 |- l50) circle [dotone];

\end{tikzpicture}
\end{document}
